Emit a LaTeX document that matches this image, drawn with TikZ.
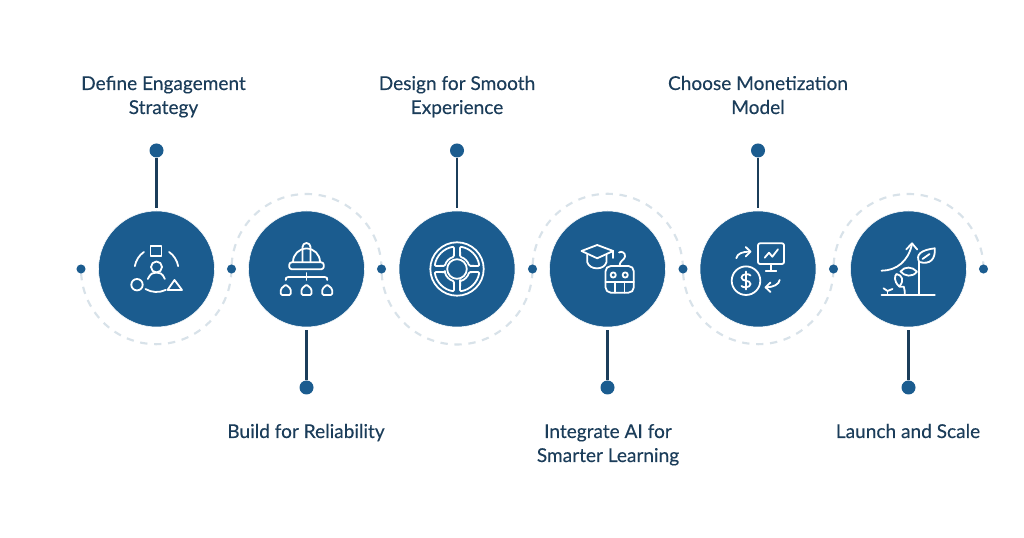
\documentclass[tikz,border=0pt]{standalone}
\usepackage{fontspec}
\setmainfont{Lato}[FakeBold=0.2]
\usetikzlibrary{arrows.meta}
\definecolor{hub}{HTML}{1B5C8F}
\definecolor{ink}{HTML}{1B3D5A}
\definecolor{dash}{HTML}{D8E2E9}
\tikzset{
  x=0.75pt,y=0.75pt,
  hubnode/.style={circle,fill=hub,draw=white,line width=0.4pt,inner sep=0,minimum size=87pt},
  pindot/.style={circle,fill=hub,inner sep=0,minimum size=10.5pt},
  smalldot/.style={circle,fill=hub,inner sep=0,minimum size=6.8pt},
  stemline/.style={draw=ink,line width=1.6pt,shorten >=1.8pt},
  dasharc/.style={draw=dash,line width=1.6pt,dash pattern=on 5.5pt off 5pt,dash phase=-3pt},
  icon/.style={draw=white,line width=1.35pt,line cap=round,line join=round},
  label/.style={text=ink,align=center,font=\fontsize{14.3}{18}\selectfont,inner sep=0},
}
\begin{document}
\begin{tikzpicture}
\useasboundingbox (0,0) rectangle (1024,538);
\fill[white] (0,0) rectangle (1024,538);
% dots on the axis
\coordinate (a0) at (81,269);
\coordinate (a1) at (231.5,269);
\coordinate (a2) at (381.5,269);
\coordinate (a3) at (532.5,269);
\coordinate (a4) at (683,269);
\coordinate (a5) at (833.5,269);
\coordinate (a6) at (983.5,269);
% dashed half circles
\draw[dasharc] (a0) arc[start angle=180,end angle=360,radius=75.2];
\draw[dasharc] (a1) arc[start angle=180,end angle=0,radius=75];
\draw[dasharc] (a2) arc[start angle=180,end angle=360,radius=75.5];
\draw[dasharc] (a3) arc[start angle=180,end angle=0,radius=75.2];
\draw[dasharc] (a4) arc[start angle=180,end angle=360,radius=75.2];
\draw[dasharc] (a5) arc[start angle=180,end angle=0,radius=75];
\node[smalldot] (d0) at (a0) {};
\node[smalldot] (d1) at (a1) {};
\node[smalldot] (d2) at (a2) {};
\node[smalldot] (d3) at (a3) {};
\node[smalldot] (d4) at (a4) {};
\node[smalldot] (d5) at (a5) {};
\node[smalldot] (d6) at (a6) {};
% hubs
\node[hubnode] (c1) at (156.5,269) {};
\node[hubnode] (c2) at (306.5,269) {};
\node[hubnode] (c3) at (457,269) {};
\node[hubnode] (c4) at (607.5,269) {};
\node[hubnode] (c5) at (758,269) {};
\node[hubnode] (c6) at (908.5,269) {};
% pins
\node[pindot] (t1) at (156.5,387.5) {};
\node[pindot] (t3) at (457,387.5) {};
\node[pindot] (t5) at (758,387.5) {};
\node[pindot] (b2) at (306.5,150.5) {};
\node[pindot] (b4) at (607.5,150.5) {};
\node[pindot] (b6) at (908.5,150.5) {};
\draw[stemline] (t1) -- (c1);
\draw[stemline] (t3) -- (c3);
\draw[stemline] (t5) -- (c5);
\draw[stemline] (b2) -- (c2);
\draw[stemline] (b4) -- (c4);
\draw[stemline] (b6) -- (c6);
% labels
\node[label] (l1) at (163.5,440.8) {\strut Define Engagement\\\strut Strategy};
\node[label] (l3) at (457,440.8) {\strut Design for Smooth\\\strut Experience};
\node[label] (l5) at (758,440.8) {\strut Choose Monetization\\\strut Model};
\node[label] (l2) at (306,104.8) {\strut Build for Reliability};
\node[label] (l4) at (608,92.8) {\strut Integrate AI for\\\strut Smarter Learning};
\node[label] (l6) at (908,104.8) {\strut Launch and Scale};
% icon 1
\begin{scope}[shift={(c1.center)},icon]
  \draw (-6,13) rectangle (5,23);
  \draw (0,2) circle[radius=5.5];
  \draw (-8.7,-10) .. controls (-6,-4) and (-3,-3.5) .. (0,-3.5) .. controls (3,-3.5) and (6,-4) .. (8.3,-10);
  \draw (-19.5,-15.7) circle[radius=5.7];
  \draw (18,-11) -- (11,-21) -- (25.5,-21) -- cycle;
  \draw (0,-1) ++(170:22) arc[start angle=170,end angle=125,radius=22];
  \draw (0,-1) ++(10:22) arc[start angle=10,end angle=55,radius=22];
  \draw (0,-1) ++(-120:22) arc[start angle=-120,end angle=-65,radius=22];
\end{scope}
% icon 2
\begin{scope}[shift={(c2.center)},icon]
  \draw[rounded corners=2pt] (-17.3,-0.3) rectangle (17.3,6.7);
  \draw (-13.5,7) arc[start angle=180,end angle=0,radius=13.5];
  \draw (-4,7) -- (-4,22) arc[start angle=180,end angle=0,radius=4] -- (4,7);
  \draw (0,-4) -- (0,-11);
  \draw (-20.7,-11) .. controls (-20.7,-8.5) .. (-18,-8) -- (18,-8) .. controls (20.7,-8.5) .. (20.7,-11);
  \foreach \hx in {-20.7,0,20.7}
    \draw[rounded corners=1pt,shift={(\hx,0)}] (-5,-26) -- (5,-26) -- (5,-20) -- (0,-15.5) -- (-5,-20) -- cycle;
\end{scope}
% icon 3
\begin{scope}[shift={(c3.center)},icon]
  \draw (0,0) circle[radius=26.7];
  \draw (0,0) circle[radius=9.8];
  \foreach \q in {0,90,180,270}
    \draw[rotate=\q,rounded corners=0.8pt] (14.5:12.5) -- (7.8:22.5) arc[start angle=7.8,end angle=82.2,radius=22.5] -- (75.5:12.5) arc[start angle=75.5,end angle=14.5,radius=12.5] -- cycle;
\end{scope}
% icon 4
\begin{scope}[shift={(c4.center)},icon]
  \draw (-26,18) -- (-10.3,24) -- (5.7,18) -- (-10.3,10.7) -- cycle;
  \draw (-20.3,14.5) -- (-20.3,7) .. controls (-18,-1.5) and (-3,-1.5) .. (-1,7) -- (-1,14.5);
  \draw (5.7,18) -- (5.7,11);
  \draw[rounded corners=4pt] (-2,3) rectangle (26.3,-23.7);
  \draw (-2,-12.7) -- (26.3,-12.7);
  \draw (7.3,-12.7) -- (7.3,-23.7);
  \draw (16.9,-12.7) -- (16.9,-23.7);
  \draw (5.7,-6) circle[radius=2.6];
  \draw (17.7,-6) circle[radius=2.6];
  \draw (11.5,16.5) .. controls (14,18.5) and (18,16) .. (17.5,12.5) .. controls (17,9) and (12,8.5) .. (12,3) -- (21,3);
\end{scope}
% icon 5
\begin{scope}[shift={(c5.center)},icon]
  \draw[rounded corners=1.5pt] (0,25.7) rectangle (26,5);
  \draw (12.7,5) -- (12.7,-1.7);
  \draw (7.7,-1.7) -- (18.3,-1.7);
  \draw (6.7,11.3) -- (11,16.3) -- (14.3,12.3) -- (20,19.7);
  \draw (-12,-11.7) circle[radius=14.3];
  \draw (-7.5,-6.5) .. controls (-8.5,-4.5) and (-16.5,-4.5) .. (-16.5,-8.5) .. controls (-16.5,-13) and (-7.5,-10.5) .. (-7.5,-15) .. controls (-7.5,-19) and (-15.5,-19) .. (-16.5,-17);
  \draw (-12,-2.5) -- (-12,-20.5);
  \draw (-21.7,10.7) .. controls (-21,15.5) and (-15,17.5) .. (-8.3,17.3);
  \draw (-12.3,22) -- (-7.5,17.3) -- (-12.3,12.5);
  \draw (21.7,-11) .. controls (21,-15.5) and (15,-18.3) .. (8.3,-18.3);
  \draw (12.5,-13.5) -- (7.5,-18.3) -- (12.5,-23);
\end{scope}
% icon 6
\begin{scope}[shift={(c6.center)},icon]
  \draw (-27,-26) -- (26.3,-26);
  \draw (10.7,-26) -- (10.7,7);
  \draw (10.7,7) .. controls (7,14) and (12,19) .. (26.3,20.7) .. controls (27,10) and (22,4) .. (10.7,7);
  \draw (14,10) -- (21,15);
  \draw (8.5,-2.7) .. controls (4,2.5) and (-4,3) .. (-8,-2.5) .. controls (-4,-7.5) and (4,-8.5) .. (8.5,-2.7);
  \draw (-9.3,-17.5) .. controls (-15,-12) and (-14,-7) .. (-12,-5) .. controls (-6,-6) and (-4,-12) .. (-9.3,-17.5);
  \draw (-3.7,-26) .. controls (-3.7,-22) and (-4,-20) .. (-4.7,-17.7) -- (-9,-17.7);
  \draw (-21,-26) -- (-21,-22);
  \draw (-25,-19.3) -- (-21,-22) -- (-16,-20);
  \draw (-27,-1.7) .. controls (-12,-1.7) and (0,8) .. (3.5,25);
  \draw (-2.3,19.5) -- (3.5,25.7) -- (8.7,19.5);
\end{scope}
\end{tikzpicture}
\end{document}
